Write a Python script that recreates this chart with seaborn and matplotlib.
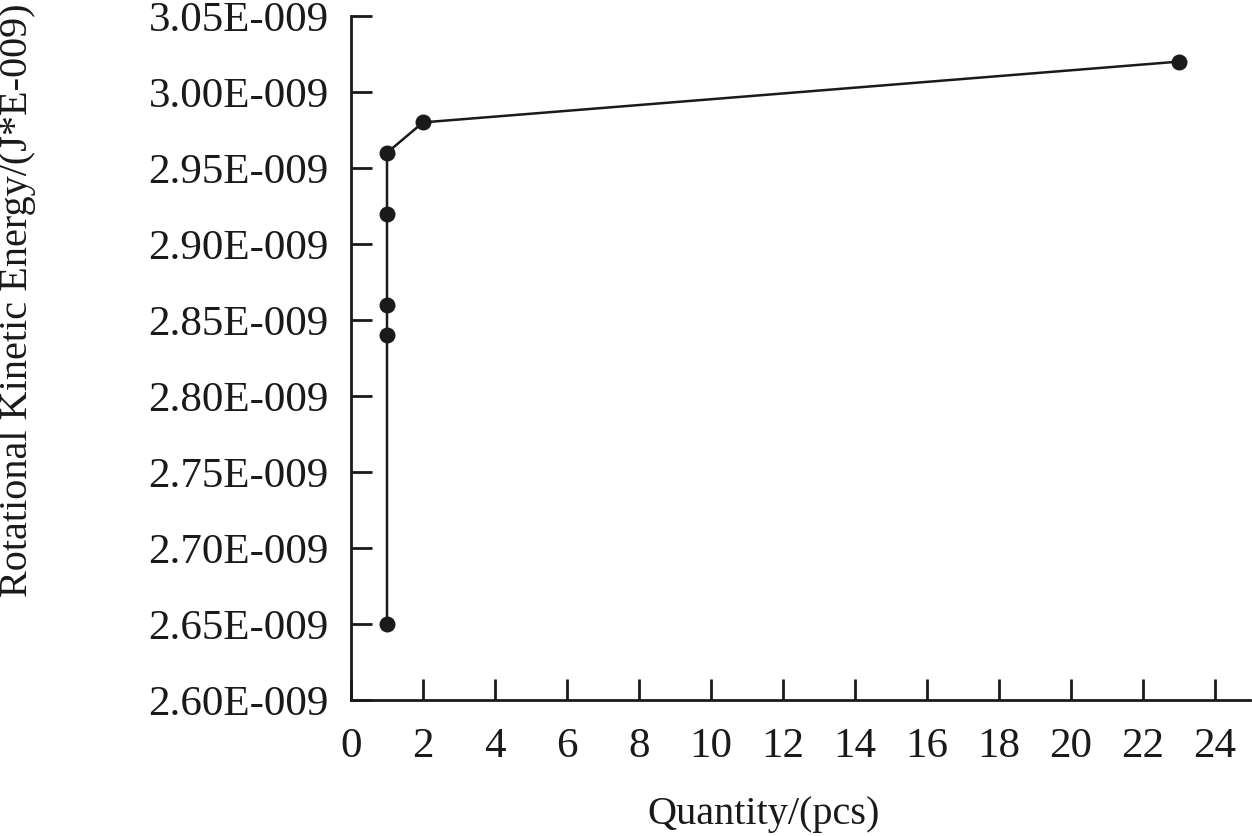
import pandas as pd
import numpy as np
import matplotlib
matplotlib.use("Agg")
import matplotlib.pyplot as plt
import seaborn as sns

# valeurs
quantity = [1, 1, 1, 1, 1, 2, 23]
energy = [2.65e-9, 2.84e-9, 2.86e-9, 2.92e-9, 2.96e-9, 2.98e-9, 3.02e-9]
x_ticks = list(range(0, 25, 2))
y_ticks = [2.60e-9, 2.65e-9, 2.70e-9, 2.75e-9, 2.80e-9, 2.85e-9, 2.90e-9, 2.95e-9, 3.00e-9, 3.05e-9]
y_labels = ["2.60E-009", "2.65E-009", "2.70E-009", "2.75E-009", "2.80E-009",
            "2.85E-009", "2.90E-009", "2.95E-009", "3.00E-009", "3.05E-009"]

df = pd.DataFrame({"quantity": quantity, "energy": energy})

sns.set_style("ticks")
plt.rcParams["font.family"] = ["Liberation Serif", "DejaVu Serif"]

fig = plt.figure(figsize=(12.52, 8.36), dpi=100)
ax = fig.add_axes([351 / 1252, 136 / 836, 899 / 1252, 684 / 836])

sns.lineplot(data=df, x="quantity", y="energy", sort=False, estimator=None,
             color="#1a1a1a", linewidth=1.8, marker="o", markersize=11.5,
             markeredgewidth=0, ax=ax)

ax.set_xlim(0, 899 / 36)
ax.set_ylim(2.60e-9, 3.05e-9)
ax.set_xticks(x_ticks)
ax.set_yticks(y_ticks)
ax.set_yticklabels(y_labels)

ax.spines["top"].set_visible(False)
ax.spines["right"].set_visible(False)
for s in ["left", "bottom"]:
    ax.spines[s].set_linewidth(2)
    ax.spines[s].set_color("#1a1a1a")

ax.tick_params(axis="both", direction="in", length=15, width=2, color="#1a1a1a",
               labelsize=31, labelcolor="#1a1a1a")
ax.tick_params(axis="x", pad=20)
ax.tick_params(axis="y", pad=16)

ax.set_xlabel("Quantity/(pcs)", fontsize=29, color="#1a1a1a")
ax.set_ylabel("Rotational Kinetic Energy/(J*E-009)", fontsize=29, color="#1a1a1a")
ax.xaxis.set_label_coords((764 - 351) / 899, (700 - 796) / 684)
ax.yaxis.set_label_coords((36 - 351) / 899, (700 - 300) / 684)

fig.savefig("out.png", dpi=100)
